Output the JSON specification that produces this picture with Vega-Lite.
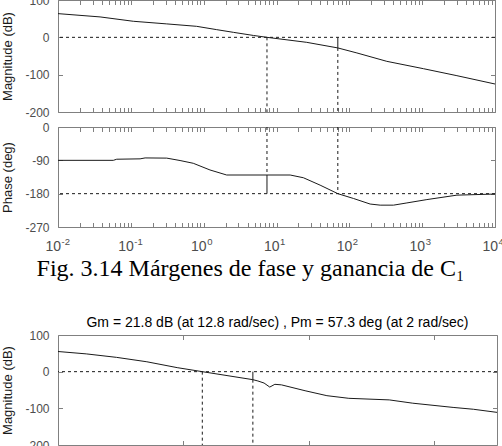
{
  "$schema": "https://vega.github.io/schema/vega-lite/v6.json",
  "autosize": "none",
  "padding": {"left": 58, "top": 0, "right": 444, "bottom": 446},
  "background": "white",
  "config": {
    "view": {"stroke": "#808080", "strokeWidth": 1},
    "axis": {"domain": false, "grid": false, "tickColor": "#808080", "tickSize": -4.5, "tickWidth": 1,
      "labelColor": "#4d4d4d", "labelFont": "Liberation Sans", "labelFontSize": 12,
      "titleFont": "Liberation Sans", "titleFontSize": 13, "titleFontWeight": "normal", "titleColor": "#1a1a1a",
      "labelPadding": 13.5, "titlePadding": 10, "labelBound": false, "labelOverlap": false, "labelFlush": false},
    "line": {"color": "#1a1a1a", "strokeWidth": 1},
    "rule": {"color": "#1a1a1a", "strokeWidth": 1},
    "title": {"fontWeight": "normal", "color": "#000000"}
  },
  "datasets": {
    "mag1": [
      {"f": 0.01, "db": 63.5}, {"f": 0.0378, "db": 54.7}, {"f": 0.108, "db": 43}, {"f": 0.311, "db": 36},
      {"f": 0.8, "db": 29.5}, {"f": 1.51, "db": 20.6}, {"f": 2.56, "db": 13.4}, {"f": 4.82, "db": 5},
      {"f": 7.4, "db": 0}, {"f": 26, "db": -13.4}, {"f": 69.5, "db": -28.4}, {"f": 127, "db": -41.8},
      {"f": 327, "db": -64.3}, {"f": 1042, "db": -84}, {"f": 3000, "db": -102.7}, {"f": 10000, "db": -125}
    ],
    "phase1": [
      {"f": 0.01, "deg": -90}, {"f": 0.0575, "deg": -90}, {"f": 0.064, "deg": -87}, {"f": 0.134, "deg": -86},
      {"f": 0.157, "deg": -83.5}, {"f": 0.311, "deg": -84}, {"f": 0.474, "deg": -90.5}, {"f": 0.72, "deg": -98},
      {"f": 1.22, "deg": -116}, {"f": 2.07, "deg": -129.6}, {"f": 15.4, "deg": -129.6}, {"f": 23.4, "deg": -137},
      {"f": 39.7, "deg": -157}, {"f": 69.5, "deg": -180}, {"f": 114, "deg": -193}, {"f": 193, "deg": -208},
      {"f": 265, "deg": -211}, {"f": 404, "deg": -211}, {"f": 617, "deg": -205}, {"f": 1160, "deg": -196},
      {"f": 3000, "deg": -184}, {"f": 10000, "deg": -181}
    ],
    "mag2": [
      {"f": 0.01, "db": 55}, {"f": 0.0282, "db": 48.5}, {"f": 0.086, "db": 39}, {"f": 0.261, "db": 27},
      {"f": 0.795, "db": 11}, {"f": 2, "db": 0}, {"f": 12.8, "db": -21.8}, {"f": 15.4, "db": -25.4},
      {"f": 19.3, "db": -31}, {"f": 23.8, "db": -42}, {"f": 28.7, "db": -34.5}, {"f": 36.6, "db": -36},
      {"f": 87, "db": -52}, {"f": 194, "db": -65.5}, {"f": 434, "db": -72.7}, {"f": 1914, "db": -77},
      {"f": 4540, "db": -86}, {"f": 19950, "db": -97.5}, {"f": 42000, "db": -102.5}, {"f": 100000, "db": -111}
    ],
    "mag1Dashed": [{"f": 7.4, "a": 0, "b": -200}, {"f": 69.5, "a": -28.4, "b": -200}],
    "mag1Solid": [{"f": 69.5, "a": 0, "b": -28.4}],
    "phase1Dashed": [{"f": 7.4, "a": 0, "b": -129.6}, {"f": 69.5, "a": 0, "b": -180}],
    "phase1Solid": [{"f": 7.4, "a": -129.6, "b": -180}],
    "mag2Dashed": [{"f": 2, "a": 0, "b": -200}, {"f": 12.8, "a": -21.8, "b": -200}],
    "mag2Solid": [{"f": 12.8, "a": 0, "b": -21.8}],
    "zeroDb": [{"ref": 0}],
    "minus180": [{"ref": -180}]
  },
  "bounds": "flush",
  "spacing": 335,
  "vconcat": [
    {
      "bounds": "flush",
      "spacing": 15,
      "vconcat": [
        {
          "width": 437, "height": 112,
          "resolve": {"axis": {"x": "independent", "y": "independent"}},
          "layer": [
            {
              "data": {"name": "mag1"},
              "mark": {"type": "line"},
              "encoding": {
                "x": {"field": "f", "type": "quantitative", "scale": {"type": "log", "domain": [0.01, 10000], "nice": false},
                  "axis": {"orient": "bottom", "title": null, "labels": false,
                    "values": [0.01,0.02,0.03,0.04,0.05,0.06,0.07,0.08,0.09,0.1,0.2,0.3,0.4,0.5,0.6,0.7,0.8,0.9,1,2,3,4,5,6,7,8,9,10,20,30,40,50,60,70,80,90,100,200,300,400,500,600,700,800,900,1000,2000,3000,4000,5000,6000,7000,8000,9000,10000]}},
                "y": {"field": "db", "type": "quantitative", "scale": {"domain": [-200, 100], "nice": false, "zero": false},
                  "axis": {"orient": "left", "title": "Magnitude (dB)", "values": [100, 0, -100, -200],
                    "labelExpr": "replace(datum.label, '\u2212', '-')"}}
              }
            },
            {
              "data": {"name": "mag1Dashed"},
              "mark": {"type": "rule", "strokeDash": [3, 3]},
              "encoding": {
                "x": {"field": "f", "type": "quantitative",
                  "axis": {"orient": "top", "title": null, "labels": false,
                    "values": [0.01,0.02,0.03,0.04,0.05,0.06,0.07,0.08,0.09,0.1,0.2,0.3,0.4,0.5,0.6,0.7,0.8,0.9,1,2,3,4,5,6,7,8,9,10,20,30,40,50,60,70,80,90,100,200,300,400,500,600,700,800,900,1000,2000,3000,4000,5000,6000,7000,8000,9000,10000]}},
                "y": {"field": "a", "type": "quantitative", "axis": {"orient": "right", "title": null, "labels": false, "values": [100, 0, -100, -200]}},
                "y2": {"field": "b"}
              }
            },
            {
              "data": {"name": "mag1Solid"},
              "mark": {"type": "rule"},
              "encoding": {
                "x": {"field": "f", "type": "quantitative", "axis": null},
                "y": {"field": "a", "type": "quantitative", "axis": null},
                "y2": {"field": "b"}
              }
            },
            {
              "data": {"name": "zeroDb"},
              "mark": {"type": "rule", "strokeDash": [3, 3]},
              "encoding": {
                "y": {"field": "ref", "type": "quantitative", "axis": null}
              }
            }
          ]
        },
        {
          "width": 437, "height": 100,
          "resolve": {"axis": {"x": "independent", "y": "independent"}},
          "layer": [
            {
              "data": {"name": "phase1"},
              "mark": {"type": "line"},
              "encoding": {
                "x": {"field": "f", "type": "quantitative", "scale": {"type": "log", "domain": [0.01, 10000], "nice": false},
                  "axis": {"orient": "bottom", "title": null, "labelFontSize": 14, "labelAlign": "right", "labelBaseline": "alphabetic",
                    "labelPadding": 27.5, "labelOffset": 2.5,
                    "labelExpr": "indexof([0.01,0.1,1,10,100,1000,10000], datum.value) >= 0 ? '10' : ''",
                    "values": [0.01,0.02,0.03,0.04,0.05,0.06,0.07,0.08,0.09,0.1,0.2,0.3,0.4,0.5,0.6,0.7,0.8,0.9,1,2,3,4,5,6,7,8,9,10,20,30,40,50,60,70,80,90,100,200,300,400,500,600,700,800,900,1000,2000,3000,4000,5000,6000,7000,8000,9000,10000]}},
                "y": {"field": "deg", "type": "quantitative", "scale": {"domain": [-270, 0], "nice": false, "zero": false},
                  "axis": {"orient": "left", "title": "Phase (deg)", "values": [0, -90, -180, -270],
                    "labelExpr": "replace(datum.label, '\u2212', '-')"}}
              }
            },
            {
              "data": {"name": "phase1Dashed"},
              "mark": {"type": "rule", "strokeDash": [3, 3]},
              "encoding": {
                "x": {"field": "f", "type": "quantitative",
                  "axis": {"orient": "top", "title": null, "labels": false,
                    "values": [0.01,0.02,0.03,0.04,0.05,0.06,0.07,0.08,0.09,0.1,0.2,0.3,0.4,0.5,0.6,0.7,0.8,0.9,1,2,3,4,5,6,7,8,9,10,20,30,40,50,60,70,80,90,100,200,300,400,500,600,700,800,900,1000,2000,3000,4000,5000,6000,7000,8000,9000,10000]}},
                "y": {"field": "a", "type": "quantitative", "axis": {"orient": "right", "title": null, "labels": false, "values": [0, -90, -180, -270]}},
                "y2": {"field": "b"}
              }
            },
            {
              "data": {"name": "phase1Solid"},
              "mark": {"type": "rule"},
              "encoding": {
                "x": {"field": "f", "type": "quantitative",
                  "axis": {"orient": "bottom", "title": null, "ticks": false, "labelFontSize": 9.5, "labelAlign": "left", "labelBaseline": "alphabetic",
                    "labelPadding": 17.5, "labelOffset": 3,
                    "labelExpr": "datum.value < 0.05 ? '-2' : datum.value < 0.5 ? '-1' : datum.value < 5 ? '0' : datum.value < 50 ? '1' : datum.value < 500 ? '2' : datum.value < 5000 ? '3' : '4'",
                    "values": [0.01, 0.1, 1, 10, 100, 1000, 10000]}},
                "y": {"field": "a", "type": "quantitative", "axis": null},
                "y2": {"field": "b"}
              }
            },
            {
              "data": {"name": "minus180"},
              "mark": {"type": "rule", "strokeDash": [3, 3]},
              "encoding": {
                "y": {"field": "ref", "type": "quantitative", "axis": null}
              }
            }
          ]
        }
      ]
    },
    {
      "bounds": "flush",
      "title": {"text": "Fig. 3.14 Márgenes de fase y ganancia de C₁", "font": "Liberation Serif", "fontSize": 24, "fontWeight": "normal",
        "color": "#000000", "anchor": "middle", "frame": "bounds", "offset": 35},
      "vconcat": [
        {
          "width": 439, "height": 110,
          "title": {"text": "Gm = 21.8 dB (at 12.8 rad/sec) , Pm = 57.3 deg (at 2 rad/sec)", "font": "Liberation Sans", "fontSize": 14,
            "fontWeight": "normal", "color": "#000000", "anchor": "middle", "frame": "group", "offset": -1},
          "resolve": {"axis": {"x": "independent", "y": "independent"}},
          "layer": [
            {
              "data": {"name": "mag2"},
              "mark": {"type": "line"},
              "encoding": {
                "x": {"field": "f", "type": "quantitative", "scale": {"type": "log", "domain": [0.01, 100000], "nice": false},
                  "axis": {"orient": "bottom", "title": null, "labels": false, "values": [1, 100, 10000]}},
                "y": {"field": "db", "type": "quantitative", "scale": {"domain": [-200, 100], "nice": false, "zero": false},
                  "axis": {"orient": "left", "title": "Magnitude (dB)", "values": [100, 0, -100, -200],
                    "labelExpr": "replace(datum.label, '\u2212', '-')"}}
              }
            },
            {
              "data": {"name": "mag2Dashed"},
              "mark": {"type": "rule", "strokeDash": [3, 3]},
              "encoding": {
                "x": {"field": "f", "type": "quantitative",
                  "axis": {"orient": "top", "title": null, "labels": false, "values": [1, 100, 10000]}},
                "y": {"field": "a", "type": "quantitative", "axis": {"orient": "right", "title": null, "labels": false, "values": [100, 0, -100, -200]}},
                "y2": {"field": "b"}
              }
            },
            {
              "data": {"name": "mag2Solid"},
              "mark": {"type": "rule"},
              "encoding": {
                "x": {"field": "f", "type": "quantitative", "axis": null},
                "y": {"field": "a", "type": "quantitative", "axis": null},
                "y2": {"field": "b"}
              }
            },
            {
              "data": {"name": "zeroDb"},
              "mark": {"type": "rule", "strokeDash": [3, 3]},
              "encoding": {
                "y": {"field": "ref", "type": "quantitative", "axis": null}
              }
            }
          ]
        }
      ]
    }
  ]
}
